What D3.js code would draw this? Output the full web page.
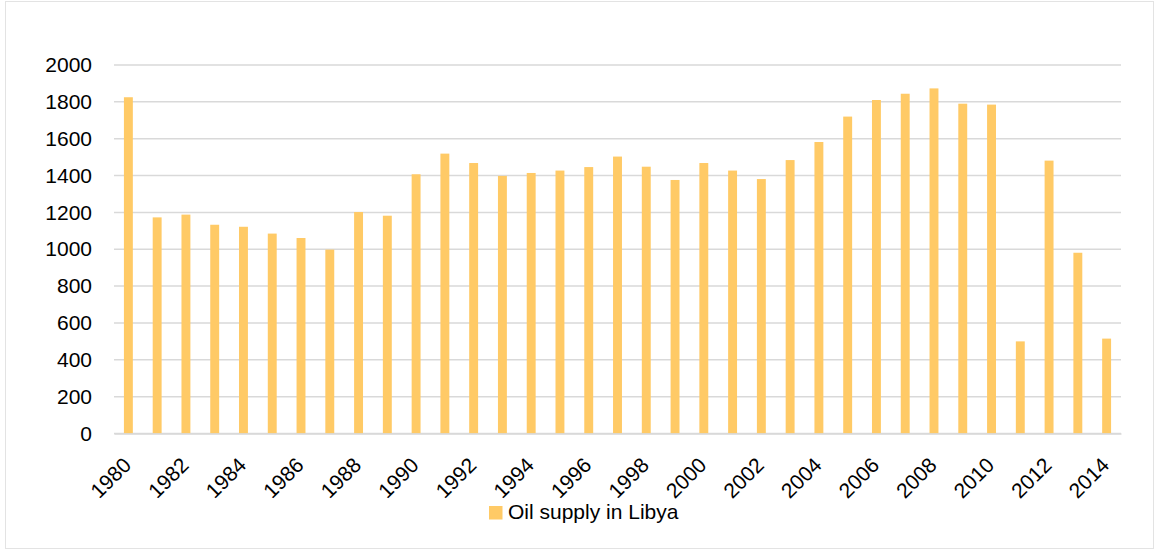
<!DOCTYPE html>
<html>
<head>
  <title>Oil supply in Libya</title>
  <script src="https://d3js.org/d3.v7.min.js"></script>
  <style>
    body { margin: 0; background: #fff; }
    svg { font-family: "Liberation Sans", Arial, sans-serif; }
  </style>
</head>
<body>
<div id="chart"></div>
<script>
// Data
var years = [1980, 1981, 1982, 1983, 1984, 1985, 1986, 1987, 1988, 1989,
             1990, 1991, 1992, 1993, 1994, 1995, 1996, 1997, 1998, 1999,
             2000, 2001, 2002, 2003, 2004, 2005, 2006, 2007, 2008, 2009,
             2010, 2011, 2012, 2013, 2014];
var supply = [1825, 1173, 1188, 1133, 1122, 1085, 1061, 998, 1202, 1182,
              1407, 1519, 1468, 1398, 1414, 1427, 1446, 1503, 1448, 1376,
              1468, 1427, 1381, 1484, 1582, 1720, 1810, 1844, 1873, 1790,
              1785, 500, 1481, 981, 515];
var yTicks = [0, 200, 400, 600, 800, 1000, 1200, 1400, 1600, 1800, 2000];
var seriesName = "Oil supply in Libya";

var width = 1155, height = 550;
var margin = { top: 65, right: 34, bottom: 116.5, left: 114 };
var barColor = "#ffca66";

var svg = d3.select("#chart").append("svg")
  .attr("width", width)
  .attr("height", height);

// outer chart border
svg.append("rect")
  .attr("x", 5.5).attr("y", 1.5)
  .attr("width", width - 7).attr("height", height - 3)
  .attr("fill", "none")
  .attr("stroke", "#e3e3e3")
  .attr("stroke-width", 1);

var innerW = width - margin.left - margin.right;
var innerH = height - margin.top - margin.bottom;

var g = svg.append("g")
  .attr("transform", "translate(" + margin.left + "," + margin.top + ")");

var x = d3.scaleBand()
  .domain(years)
  .range([0, innerW])
  .paddingInner(0.69)
  .paddingOuter(0.345);

var y = d3.scaleLinear()
  .domain([0, 2000])
  .range([innerH, 0]);

// gridlines
g.append("g")
  .selectAll("line")
  .data(yTicks)
  .enter()
  .append("line")
  .attr("x1", 0)
  .attr("x2", innerW)
  .attr("y1", function(d) { return y(d); })
  .attr("y2", function(d) { return y(d); })
  .attr("stroke", "#d9d9d9")
  .attr("stroke-width", 1.5);

// y axis labels
var yAxis = d3.axisLeft(y).tickValues(yTicks).tickFormat(d3.format("d"))
  .tickSize(0).tickPadding(22);
g.append("g")
  .call(yAxis)
  .call(function(s) { s.select(".domain").remove(); })
  .selectAll("text")
  .style("font-size", "21px")
  .style("fill", "#000");

// bars
g.selectAll(".bar")
  .data(years)
  .enter()
  .append("rect")
  .attr("class", "bar")
  .attr("x", function(d) { return x(d); })
  .attr("width", x.bandwidth())
  .attr("y", function(d, i) { return y(supply[i]); })
  .attr("height", function(d, i) { return innerH - y(supply[i]); })
  .attr("fill", barColor);

// x axis
var xAxis = d3.axisBottom(x)
  .tickValues(years.filter(function(d) { return d % 2 === 0; }))
  .tickSize(0)
  .tickPadding(0);
var xg = g.append("g")
  .attr("transform", "translate(0," + innerH + ")")
  .call(xAxis);
xg.select(".domain")
  .attr("stroke", "#d9d9d9")
  .attr("stroke-width", 1.5);
xg.selectAll("text")
  .attr("y", 0)
  .attr("dy", 0)
  .attr("text-anchor", "end")
  .attr("transform", "translate(4,33) rotate(-45)")
  .style("font-size", "21px")
  .style("fill", "#000");

// legend
var legend = svg.append("g")
  .attr("transform", "translate(489,506)");
legend.append("rect")
  .attr("width", 13.5)
  .attr("height", 13.5)
  .attr("fill", barColor);
legend.append("text")
  .attr("x", 19)
  .attr("y", 13)
  .style("font-size", "21px")
  .style("fill", "#000")
  .text(seriesName);
</script>
</body>
</html>
